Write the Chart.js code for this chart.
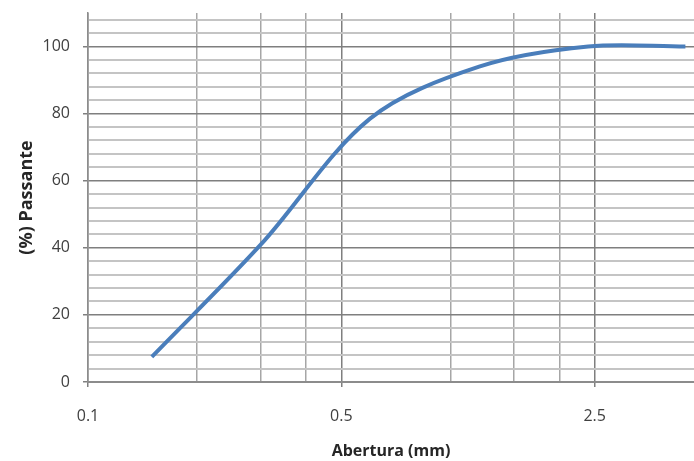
<!DOCTYPE html>
<html>
<head>
<meta charset="utf-8">
<script src="https://cdn.jsdelivr.net/npm/chart.js@4.4.0/dist/chart.umd.min.js"></script>
<style>
  html, body { margin: 0; padding: 0; background: #fff; }
  #wrap { width: 694px; height: 461px; }
</style>
</head>
<body>
<div id="wrap"><canvas id="granChart" width="694" height="461"></canvas></div>
<script>
// curva granulometrica
const aberturas = [0.15, 0.3, 0.6, 1.2, 2.4, 4.45];
const passante = [7.5, 41, 78.5, 94, 100, 100];

const xGrid = [0.1, 0.2, 0.3, 0.4, 0.5, 1.0, 1.5, 2.0, 2.5];
const xLabels = [0.1, 0.5, 2.5];
const yGrid = [0, 4, 8, 12, 16, 20, 24, 28, 32, 36, 40, 44, 48, 52, 56, 60, 64, 68, 72, 76, 80, 84, 88, 92, 96, 100, 104, 108];
const yLabels = [0, 20, 40, 60, 80, 100];

const isXMajor = v => xLabels.some(l => Math.abs(l - v) < 1e-9);
const isYMajor = v => yLabels.includes(v);

const ctx = document.getElementById('granChart');
new Chart(ctx, {
  type: 'line',
  data: {
    datasets: [{
      data: aberturas.map((x, i) => ({ x, y: passante[i] })),
      borderColor: '#4a7ebb',
      borderWidth: 4,
      pointRadius: 0,
      tension: 0.33,
      fill: false
    }]
  },
  options: {
    responsive: false,
    animation: false,
    layout: { padding: { top: 13, right: 0, left: 0, bottom: 0 } },
    plugins: { legend: { display: false }, tooltip: { enabled: false } },
    scales: {
      x: {
        type: 'logarithmic',
        min: 0.1,
        max: 4.7,
        afterBuildTicks: s => { s.ticks = xGrid.map(v => ({ value: v })); },
        afterFit: s => { s.height = 79; s.paddingRight = 0; },
        ticks: {
          autoSkip: false,
          maxRotation: 0,
          padding: 20,
          color: '#404040',
          font: { family: 'Open Sans', size: 16 },
          callback: v => isXMajor(v) ? String(v) : ''
        },
        grid: {
          color: c => isXMajor(c.tick.value) ? '#7f7f7f' : '#a6a6a6',
          lineWidth: 1.5,
          tickLength: 5,
          tickColor: c => isXMajor(c.tick.value) ? '#7f7f7f' : 'rgba(0,0,0,0)'
        },
        border: { color: '#8c8c8c', width: 2 },
        title: {
          display: true,
          text: 'Abertura (mm)',
          color: '#262626',
          font: { family: 'Open Sans', size: 16, weight: 'bold' },
          padding: { top: 0, bottom: 0 }
        }
      },
      y: {
        min: 0,
        max: 110,
        afterBuildTicks: s => { s.ticks = yGrid.map(v => ({ value: v })); },
        afterFit: s => { s.width = 88; s.paddingTop = 0; s.paddingBottom = 0; },
        ticks: {
          autoSkip: false,
          padding: 13,
          color: '#404040',
          font: { family: 'Open Sans', size: 16 },
          callback: v => isYMajor(v) ? String(v) : ''
        },
        grid: {
          color: c => isYMajor(c.tick.value) ? '#7f7f7f' : '#c4c4c4',
          lineWidth: c => isYMajor(c.tick.value) ? 1.5 : 2,
          tickLength: 5,
          tickColor: c => isYMajor(c.tick.value) ? '#7f7f7f' : 'rgba(0,0,0,0)'
        },
        border: { color: '#8c8c8c', width: 1.5 },
        title: {
          display: true,
          text: '(%) Passante',
          color: '#262626',
          font: { family: 'Open Sans', size: 18, weight: 'bold' },
          padding: { top: 16, bottom: 0 }
        }
      }
    }
  }
});
</script>
</body>
</html>
